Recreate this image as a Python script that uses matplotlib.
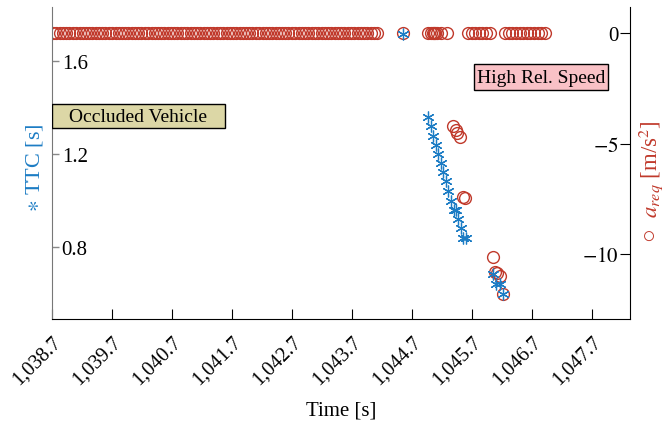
import matplotlib
matplotlib.use("Agg")
import matplotlib.pyplot as plt
from matplotlib.patches import Rectangle

plt.rcParams['font.family'] = ['Liberation Serif', 'DejaVu Serif']
plt.rcParams['mathtext.fontset'] = 'stix'

# ---- data ----
ttc_time = [1044.55, 1044.97, 1045.02, 1045.05, 1045.10, 1045.13, 1045.18, 1045.22,
            1045.27, 1045.30, 1045.35, 1045.40, 1045.43, 1045.47, 1045.52, 1045.55,
            1045.60, 1046.05, 1046.10, 1046.17, 1046.22]
ttc_value = [1.716, 1.359, 1.320, 1.277, 1.239, 1.200, 1.161, 1.123,
             1.084, 1.041, 0.998, 0.959, 0.959, 0.920, 0.882, 0.839,
             0.839, 0.684, 0.641, 0.641, 0.598]

areq_time = [1038.72, 1038.77, 1038.83, 1038.88, 1038.94, 1038.99, 1039.05, 1039.10, 1039.16, 1039.21,
             1039.27, 1039.32, 1039.37, 1039.43, 1039.48, 1039.54, 1039.59, 1039.65, 1039.70, 1039.76,
             1039.81, 1039.86, 1039.92, 1039.97, 1040.03, 1040.08, 1040.14, 1040.19, 1040.25, 1040.30,
             1040.36, 1040.41, 1040.46, 1040.52, 1040.57, 1040.63, 1040.68, 1040.74, 1040.79, 1040.85,
             1040.90, 1040.95, 1041.01, 1041.06, 1041.12, 1041.17, 1041.23, 1041.28, 1041.34, 1041.39,
             1041.45, 1041.50, 1041.55, 1041.61, 1041.66, 1041.72, 1041.77, 1041.83, 1041.88, 1041.94,
             1041.99, 1042.04, 1042.10, 1042.15, 1042.21, 1042.26, 1042.32, 1042.37, 1042.43, 1042.48,
             1042.54, 1042.59, 1042.64, 1042.70, 1042.75, 1042.81, 1042.86, 1042.92, 1042.97, 1043.03,
             1043.08, 1043.13, 1043.19, 1043.24, 1043.30, 1043.35, 1043.41, 1043.46, 1043.52, 1043.57,
             1043.63, 1043.68, 1043.73, 1043.79, 1043.84, 1043.90, 1043.95, 1044.01, 1044.06, 1044.12,
             1044.55,
             1044.97, 1045.01, 1045.04, 1045.06, 1045.08, 1045.12, 1045.18, 1045.28,
             1045.38, 1045.43, 1045.45, 1045.50, 1045.55, 1045.58,
             1045.63, 1045.69, 1045.75, 1045.81, 1045.87, 1045.93, 1045.99,
             1046.05, 1046.08, 1046.12, 1046.17, 1046.22,
             1046.25, 1046.31, 1046.37, 1046.43, 1046.49, 1046.55, 1046.61, 1046.67,
             1046.73, 1046.79, 1046.85, 1046.91]
areq_value = [0.0] * 100 + [0.0] + [0.0] * 8 + \
             [-4.21, -4.39, -4.52, -4.71, -7.42, -7.47] + [0.0] * 7 + \
             [-10.14, -10.81, -10.86, -11.0, -11.81] + [0.0] * 12

xticks = [1038.7, 1039.7, 1040.7, 1041.7, 1042.7, 1043.7, 1044.7, 1045.7, 1046.7, 1047.7]
xticklabels = ["1,038.7", "1,039.7", "1,040.7", "1,041.7", "1,042.7",
               "1,043.7", "1,044.7", "1,045.7", "1,046.7", "1,047.7"]
ttc_ticks = [0.8, 1.2, 1.6]
areq_ticks = [-10, -5, 0]

blue = '#1C7CC4'
red = '#C0392B'
FS = 15

fig = plt.figure(figsize=(6.72, 4.31), dpi=100)
ax = fig.add_axes([0.0774, 0.2575, 0.8601, 0.7235])
ax2 = ax.twinx()

ax.set_xlim(1038.7, 1048.33)
ax.set_ylim(0.490, 1.832)
ax2.set_ylim(-12.94, 1.18)

ax.plot(ttc_time, ttc_value, linestyle='none', marker=(6, 2, 0), markersize=8.5,
        markeredgewidth=0.9, color=blue, zorder=3)
ax2.plot(areq_time, areq_value, linestyle='none', marker='o', markersize=8.5,
         markerfacecolor='none', markeredgewidth=1.0, markeredgecolor=red, zorder=2)
ax.set_zorder(ax2.get_zorder() + 1)
ax.patch.set_visible(False)

for a in (ax, ax2):
    a.spines['top'].set_visible(False)
ax.spines['left'].set_color('#777777')
ax.spines['right'].set_visible(False)
ax2.spines['left'].set_visible(False)
ax2.spines['bottom'].set_visible(False)
ax2.spines['right'].set_color('black')

ax.set_xticks(xticks)
ax.set_xticklabels(xticklabels, rotation=45, ha='right', va='top', rotation_mode='anchor')
ax.tick_params(axis='x', direction='in', length=7, width=0.8, labelsize=14.5, pad=9)

ax.set_yticks(ttc_ticks)
ax.set_yticklabels(["0.8", "1.2", "1.6"])
ax.tick_params(axis='y', direction='in', length=5, width=1.0, color='#888888',
               labelsize=FS, pad=-7)
for lbl in ax.get_yticklabels():
    lbl.set_horizontalalignment('left')

ax2.set_yticks(areq_ticks)
ax2.set_yticklabels(["$-10$", "$-5$", "0"])
ax2.tick_params(axis='y', direction='in', length=7, width=0.8, labelsize=FS, pad=-8)
for lbl in ax2.get_yticklabels():
    lbl.set_horizontalalignment('right')

ax.set_xlabel("Time [s]", fontsize=FS, labelpad=9)

fig.text(0.052, 0.612, r"$\ast$ TTC [s]", color=blue, rotation=90, fontsize=16,
         ha='center', va='center')
fig.text(0.968, 0.578, "\u25CB  $a_{req}$ [m/s$^2$]", color=red, rotation=90, fontsize=16.5,
         ha='center', va='center')

# annotation boxes
ax.add_patch(Rectangle((0.0, 0.612), 0.299, 0.077, transform=ax.transAxes,
                       facecolor='#DCD7A6', edgecolor='black', linewidth=1.0, zorder=5))
ax.text(0.1495, 0.650, "Occluded Vehicle", transform=ax.transAxes, fontsize=FS - 1,
        ha='center', va='center', zorder=6)
ax.add_patch(Rectangle((0.730, 0.734), 0.232, 0.083, transform=ax.transAxes,
                       facecolor='#F9C1C6', edgecolor='black', linewidth=1.0, zorder=5))
ax.text(0.846, 0.775, "High Rel. Speed", transform=ax.transAxes, fontsize=FS - 1,
        ha='center', va='center', zorder=6)

fig.savefig("out.png", dpi=100)
